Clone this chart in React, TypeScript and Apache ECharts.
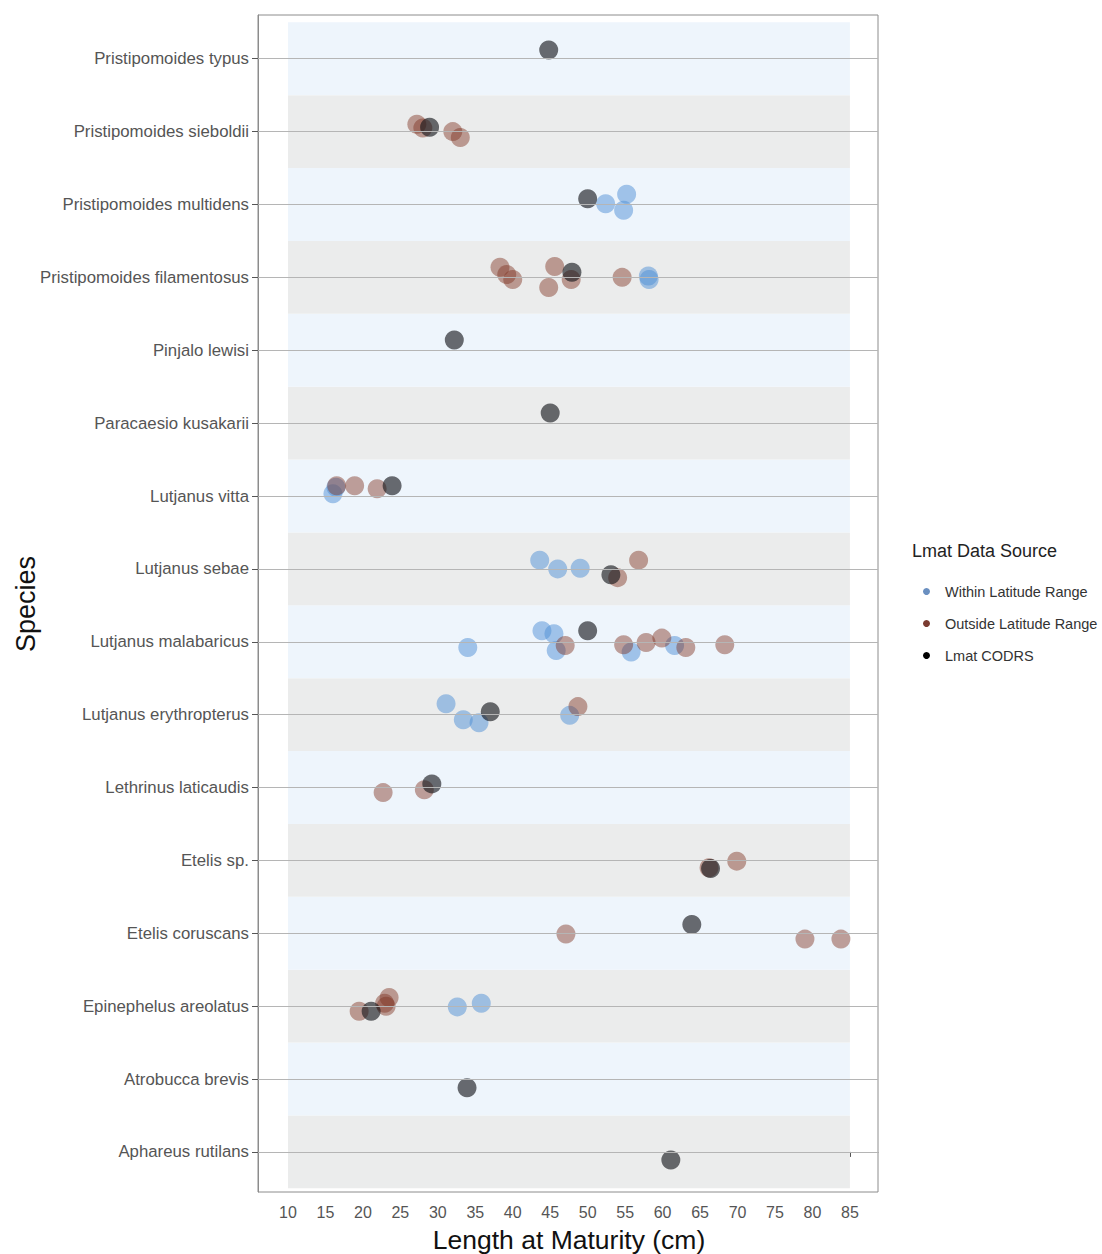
import React, { useEffect, useRef } from "react";
import * as echarts from "echarts";

const species = [
  "Aphareus rutilans",
  "Atrobucca brevis",
  "Epinephelus areolatus",
  "Etelis coruscans",
  "Etelis sp.",
  "Lethrinus laticaudis",
  "Lutjanus erythropterus",
  "Lutjanus malabaricus",
  "Lutjanus sebae",
  "Lutjanus vitta",
  "Paracaesio kusakarii",
  "Pinjalo lewisi",
  "Pristipomoides filamentosus",
  "Pristipomoides multidens",
  "Pristipomoides sieboldii",
  "Pristipomoides typus",
];

const xTicks = [10, 15, 20, 25, 30, 35, 40, 45, 50, 55, 60, 65, 70, 75, 80, 85];

// [species, length at maturity (cm), vertical jitter]
const withinRange: [string, number, number][] = [
  ["Pristipomoides multidens", 55.2, 0.14],
  ["Pristipomoides multidens", 52.4, 0.01],
  ["Pristipomoides multidens", 54.8, -0.08],
  ["Pristipomoides filamentosus", 58.1, 0.02],
  ["Pristipomoides filamentosus", 58.2, -0.03],
  ["Lutjanus vitta", 16.0, 0.03],
  ["Lutjanus vitta", 16.4, 0.12],
  ["Lutjanus sebae", 43.6, 0.12],
  ["Lutjanus sebae", 46.0, 0.0],
  ["Lutjanus sebae", 49.0, 0.01],
  ["Lutjanus malabaricus", 34.0, -0.08],
  ["Lutjanus malabaricus", 43.9, 0.15],
  ["Lutjanus malabaricus", 45.5, 0.11],
  ["Lutjanus malabaricus", 45.8, -0.12],
  ["Lutjanus malabaricus", 55.8, -0.14],
  ["Lutjanus malabaricus", 61.6, -0.05],
  ["Lutjanus erythropterus", 31.1, 0.15],
  ["Lutjanus erythropterus", 33.4, -0.07],
  ["Lutjanus erythropterus", 35.5, -0.11],
  ["Lutjanus erythropterus", 47.6, -0.01],
  ["Epinephelus areolatus", 32.6, -0.01],
  ["Epinephelus areolatus", 35.8, 0.04],
];

const outsideRange: [string, number, number][] = [
  ["Pristipomoides sieboldii", 27.2, 0.1],
  ["Pristipomoides sieboldii", 28.0, 0.05],
  ["Pristipomoides sieboldii", 32.0, 0.0],
  ["Pristipomoides sieboldii", 33.0, -0.08],
  ["Pristipomoides filamentosus", 38.3, 0.14],
  ["Pristipomoides filamentosus", 39.2, 0.04],
  ["Pristipomoides filamentosus", 40.0, -0.03],
  ["Pristipomoides filamentosus", 45.6, 0.15],
  ["Pristipomoides filamentosus", 44.8, -0.14],
  ["Pristipomoides filamentosus", 47.8, -0.03],
  ["Pristipomoides filamentosus", 54.6, 0.0],
  ["Lutjanus vitta", 16.5, 0.14],
  ["Lutjanus vitta", 18.9, 0.14],
  ["Lutjanus vitta", 21.9, 0.1],
  ["Lutjanus sebae", 54.0, -0.12],
  ["Lutjanus sebae", 56.8, 0.12],
  ["Lutjanus malabaricus", 47.0, -0.05],
  ["Lutjanus malabaricus", 54.8, -0.04],
  ["Lutjanus malabaricus", 57.8, -0.01],
  ["Lutjanus malabaricus", 59.9, 0.05],
  ["Lutjanus malabaricus", 63.1, -0.08],
  ["Lutjanus malabaricus", 68.3, -0.04],
  ["Lutjanus erythropterus", 48.7, 0.11],
  ["Lethrinus laticaudis", 22.7, -0.07],
  ["Lethrinus laticaudis", 28.2, -0.03],
  ["Etelis sp.", 66.2, -0.1],
  ["Etelis sp.", 69.9, -0.01],
  ["Etelis coruscans", 47.1, -0.01],
  ["Etelis coruscans", 79.0, -0.08],
  ["Etelis coruscans", 83.8, -0.08],
  ["Epinephelus areolatus", 19.5, -0.07],
  ["Epinephelus areolatus", 22.9, 0.04],
  ["Epinephelus areolatus", 23.5, 0.12],
  ["Epinephelus areolatus", 23.1, 0.0],
];

const lmatCodrs: [string, number, number][] = [
  ["Pristipomoides typus", 44.8, 0.12],
  ["Pristipomoides sieboldii", 28.9, 0.06],
  ["Pristipomoides multidens", 50.0, 0.08],
  ["Pristipomoides filamentosus", 47.9, 0.07],
  ["Pinjalo lewisi", 32.2, 0.14],
  ["Paracaesio kusakarii", 45.0, 0.14],
  ["Lutjanus vitta", 23.9, 0.14],
  ["Lutjanus sebae", 53.1, -0.08],
  ["Lutjanus malabaricus", 50.0, 0.15],
  ["Lutjanus erythropterus", 37.0, 0.04],
  ["Lethrinus laticaudis", 29.2, 0.05],
  ["Etelis sp.", 66.4, -0.11],
  ["Etelis coruscans", 63.9, 0.12],
  ["Epinephelus areolatus", 21.1, -0.07],
  ["Atrobucca brevis", 33.9, -0.12],
  ["Aphareus rutilans", 61.1, -0.11],
];

const FONT = "Liberation Sans, Arial, sans-serif";

const toPoints = (rows: [string, number, number][]) =>
  rows.map(([s, v, j]) => [v, species.indexOf(s) + j]);

export default function App() {
  const ref = useRef<HTMLDivElement>(null);
  useEffect(() => {
    document.body.style.margin = "0";
    if (!ref.current) return;
    const chart = echarts.init(ref.current, null, { renderer: "svg" });
    const idx = species.map((_, i) => i);
    const bands = idx.map((i) => [
      {
        xAxis: 10,
        yAxis: i - 0.5,
        itemStyle: { color: i % 2 === 1 ? "#eef5fc" : "#ebecec", borderWidth: 0 },
        label: { show: false },
      },
      { xAxis: 85, yAxis: i + 0.5 },
    ]);
    const gridLines = idx.map((i) => ({ yAxis: i }));
    const pointSeries = (name: string, rows: [string, number, number][], color: string, opacity: number) => ({
      name,
      type: "scatter",
      z: 3,
      symbolSize: 19,
      data: toPoints(rows),
      itemStyle: { color, opacity },
    });
    chart.setOption({
      animation: false,
      backgroundColor: "#ffffff",
      grid: {
        left: 258,
        top: 15,
        width: 620,
        height: 1177,
        show: true,
        borderColor: "#8c8c8c",
        borderWidth: 1,
        backgroundColor: "#ffffff",
      },
      xAxis: {
        type: "value",
        min: 6,
        max: 88.75,
        splitLine: { show: false },
        axisLine: { show: true, lineStyle: { color: "#8c8c8c" } },
        axisTick: { show: true, customValues: xTicks, length: 5, lineStyle: { color: "#555" } },
        axisLabel: {
          customValues: xTicks,
          fontSize: 16,
          color: "#555",
          fontFamily: FONT,
          margin: 12,
        },
      },
      yAxis: {
        type: "value",
        min: -0.55,
        max: 15.6,
        splitLine: { show: false },
        axisLine: { show: true, lineStyle: { color: "#8c8c8c" } },
        axisTick: { show: true, customValues: idx, length: 6, lineStyle: { color: "#555" } },
        axisLabel: {
          customValues: idx,
          formatter: (v: number) => species[Math.round(v)] ?? "",
          fontSize: 16.8,
          color: "#555",
          fontFamily: FONT,
          margin: 9,
        },
      },
      legend: {
        orient: "vertical",
        left: 918,
        top: 579,
        itemGap: 17,
        itemWidth: 7,
        itemHeight: 7,
        icon: "circle",
        textStyle: { fontSize: 14.5, color: "#333", fontFamily: FONT, padding: [0, 0, 0, 10] },
        data: [
          { name: "Within Latitude Range", itemStyle: { color: "#6a8fc0", opacity: 1 } },
          { name: "Outside Latitude Range", itemStyle: { color: "#7a3b30", opacity: 1 } },
          { name: "Lmat CODRS", itemStyle: { color: "#000000", opacity: 1 } },
        ],
      },
      graphic: [
        {
          type: "text",
          left: 912,
          top: 542,
          style: { text: "Lmat Data Source", fontSize: 18, fill: "#222", fontFamily: FONT },
        },
        {
          type: "text",
          x: 569,
          y: 1240,
          style: {
            text: "Length at Maturity (cm)",
            fontSize: 26.5,
            fill: "#111",
            fontFamily: FONT,
            align: "center",
            verticalAlign: "middle",
          },
        },
        {
          type: "text",
          x: 26,
          y: 604,
          rotation: Math.PI / 2,
          style: {
            text: "Species",
            fontSize: 27,
            fill: "#111",
            fontFamily: FONT,
            align: "center",
            verticalAlign: "middle",
          },
        },
      ],
      series: [
        {
          name: "bands",
          type: "scatter",
          z: 1,
          symbolSize: 0,
          silent: true,
          data: [[6, -0.55]],
          markArea: { silent: true, label: { show: false }, data: bands },
        },
        {
          name: "gridlines",
          type: "scatter",
          z: 2,
          symbolSize: 0,
          silent: true,
          data: [[6, -0.55]],
          markLine: {
            silent: true,
            symbol: "none",
            label: { show: false },
            lineStyle: { color: "#b5b5b5", width: 1, type: "solid" },
            data: gridLines,
          },
        },
        pointSeries("Within Latitude Range", withinRange, "#4f8fd6", 0.5),
        pointSeries("Outside Latitude Range", outsideRange, "#7e3322", 0.45),
        pointSeries("Lmat CODRS", lmatCodrs, "#111418", 0.62),
      ],
    });
    return () => chart.dispose();
  }, []);
  return <div ref={ref} style={{ width: 1102, height: 1254 }} />;
}
